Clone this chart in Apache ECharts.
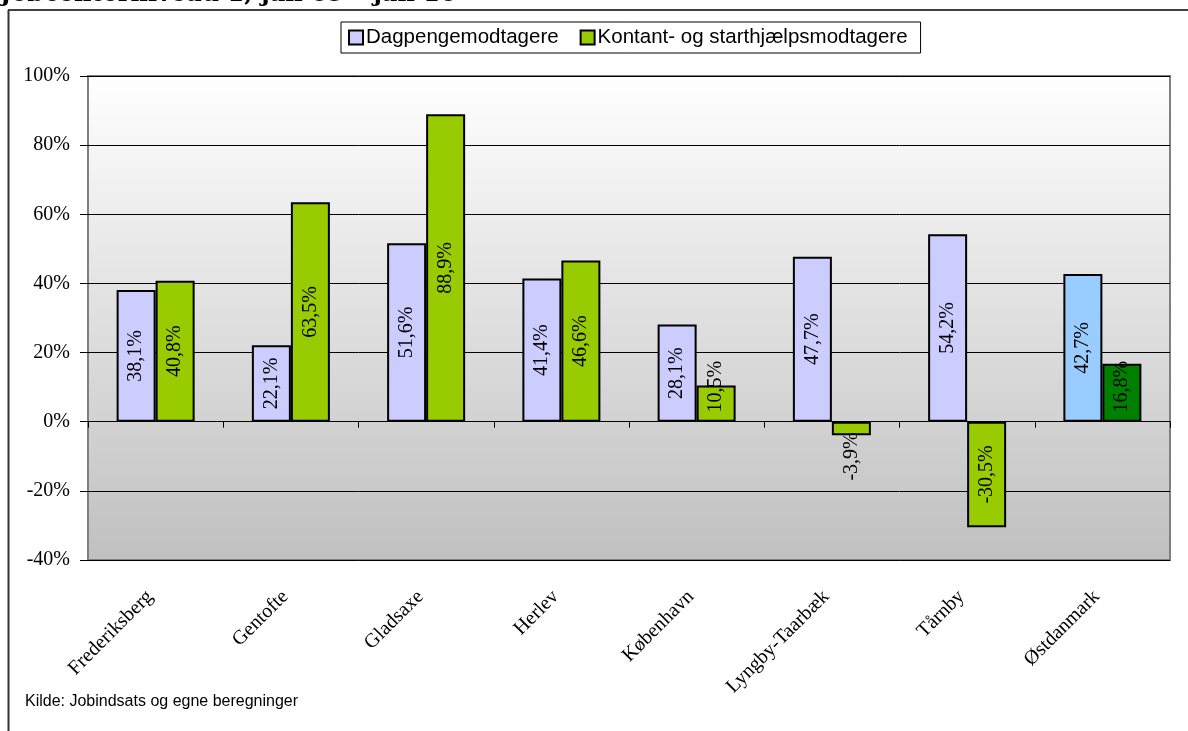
<!DOCTYPE html>
<html>
<head>
<meta charset="utf-8">
<script src="https://cdn.jsdelivr.net/npm/echarts@6/dist/echarts.min.js"></script>
<style>
  html, body { margin: 0; padding: 0; background: #fff; }
  #main { width: 1188px; height: 731px; }
</style>
</head>
<body>
<div id="main"></div>
<script>
// categories and values (percent)
var kommuner = ['Frederiksberg', 'Gentofte', 'Gladsaxe', 'Herlev', 'København', 'Lyngby-Taarbæk', 'Tårnby', 'Østdanmark'];
var dagpenge = [38.1, 22.1, 51.6, 41.4, 28.1, 47.7, 54.2, 42.7];
var kontant = [40.8, 63.5, 88.9, 46.6, 10.5, -3.9, -30.5, 16.8];
var yTicks = [-40, -20, 0, 20, 40, 60, 80, 100];

var serif = '"Liberation Serif", "Times New Roman", serif';
var sans = '"Liberation Sans", Arial, sans-serif';

function pct(v) {
    return v.toFixed(1).replace('.', ',') + '%';
}

// last category (Østdanmark) has its own colours
var dagData = dagpenge.map(function(v, i) {
    var d = { value: v };
    if (i === dagpenge.length - 1) d.itemStyle = { color: '#99ccff' };
    return d;
});
var kontData = kontant.map(function(v, i) {
    var d = { value: v };
    if (i === kontant.length - 1) d.itemStyle = { color: '#008000' };
    // Excel pushes labels of small bars out of the centre
    if (v === 10.5) d.label = { offset: [17, 0] };
    if (v === -3.9) d.label = { offset: [-28, 0] };
    if (v === 16.8) d.label = { offset: [6, 0] };
    return d;
});

var myChart = echarts.init(document.getElementById('main'));

var labelStyle = {
    show: true,
    position: 'inside',
    rotate: 90,
    fontFamily: serif,
    fontSize: 20,
    color: '#000',
    formatter: function(p) { return pct(p.value); }
};

var option = {
    animation: false,
    graphic: [
        {
            type: 'text', left: 0, top: -17,
            style: { text: 'Jobcenterniveau 1, jan 09 \u2013 jan 10', fontFamily: '"DejaVu Serif", serif', fontWeight: 'bold', fontSize: 24, fill: '#000' }
        },
        { type: 'line', shape: { x1: 8, y1: 10, x2: 1188, y2: 10 }, style: { stroke: '#000', lineWidth: 1.5 } },
        { type: 'line', shape: { x1: 8.5, y1: 10, x2: 8.5, y2: 731 }, style: { stroke: '#333', lineWidth: 2 } },
        {
            type: 'text', left: 25, top: 694,
            style: { text: 'Kilde: Jobindsats og egne beregninger', fontFamily: sans, fontSize: 16, fill: '#000' }
        }
    ],
    legend: {
        left: 341,
        top: 22,
        padding: [5, 13, 5, 7],
        borderColor: '#000',
        borderWidth: 1,
        backgroundColor: '#fff',
        itemWidth: 14,
        itemHeight: 14,
        itemGap: 21,
        icon: 'rect',
        itemStyle: { borderColor: '#000', borderWidth: 2 },
        textStyle: { fontFamily: sans, fontSize: 20.5, color: '#000', padding: [0, 0, 0, -2] },
        data: ['Dagpengemodtagere', 'Kontant- og starthjælpsmodtagere']
    },
    grid: {
        left: 88,
        right: 18,
        top: 76,
        bottom: 171,
        show: true,
        borderColor: '#808080',
        borderWidth: 2,
        backgroundColor: new echarts.graphic.LinearGradient(0, 0, 0, 1, [
            { offset: 0, color: '#ffffff' },
            { offset: 1, color: '#c0c0c0' }
        ])
    },
    xAxis: [
        {
            type: 'category',
            position: 'bottom',
            data: kommuner,
            axisLine: { show: false, onZero: false },
            axisTick: { show: false },
            axisLabel: { rotate: 45, margin: 28, interval: 0, padding: [0, 8, 0, 0], fontFamily: serif, fontSize: 20, color: '#000' }
        },
        {
            type: 'category',
            position: 'bottom',
            data: kommuner,
            axisLine: { show: true, onZero: true, lineStyle: { color: '#000', width: 1 } },
            axisTick: { show: true, interval: 0, length: 6, lineStyle: { color: '#000' } },
            axisLabel: { show: false }
        }
    ],
    yAxis: {
        type: 'value',
        min: yTicks[0],
        max: yTicks[yTicks.length - 1],
        interval: 20,
        axisLine: { show: false },
        axisTick: { show: true, length: 8, lineStyle: { color: '#000' } },
        splitLine: { lineStyle: { color: '#000', width: 1 } },
        axisLabel: {
            margin: 18,
            fontFamily: serif,
            fontSize: 20,
            color: '#000',
            formatter: '{value}%'
        }
    },
    series: [
        {
            name: 'Dagpengemodtagere',
            type: 'bar',
            xAxisIndex: 0,
            barWidth: 39,
            barGap: '0%',
            itemStyle: { color: '#ccccff', borderColor: '#000', borderWidth: 2 },
            label: labelStyle,
            data: dagData
        },
        {
            name: 'Kontant- og starthjælpsmodtagere',
            type: 'bar',
            xAxisIndex: 0,
            barWidth: 39,
            barGap: '0%',
            itemStyle: { color: '#99cc00', borderColor: '#000', borderWidth: 2 },
            label: labelStyle,
            data: kontData
        }
    ]
};

myChart.setOption(option);
</script>
</body>
</html>
